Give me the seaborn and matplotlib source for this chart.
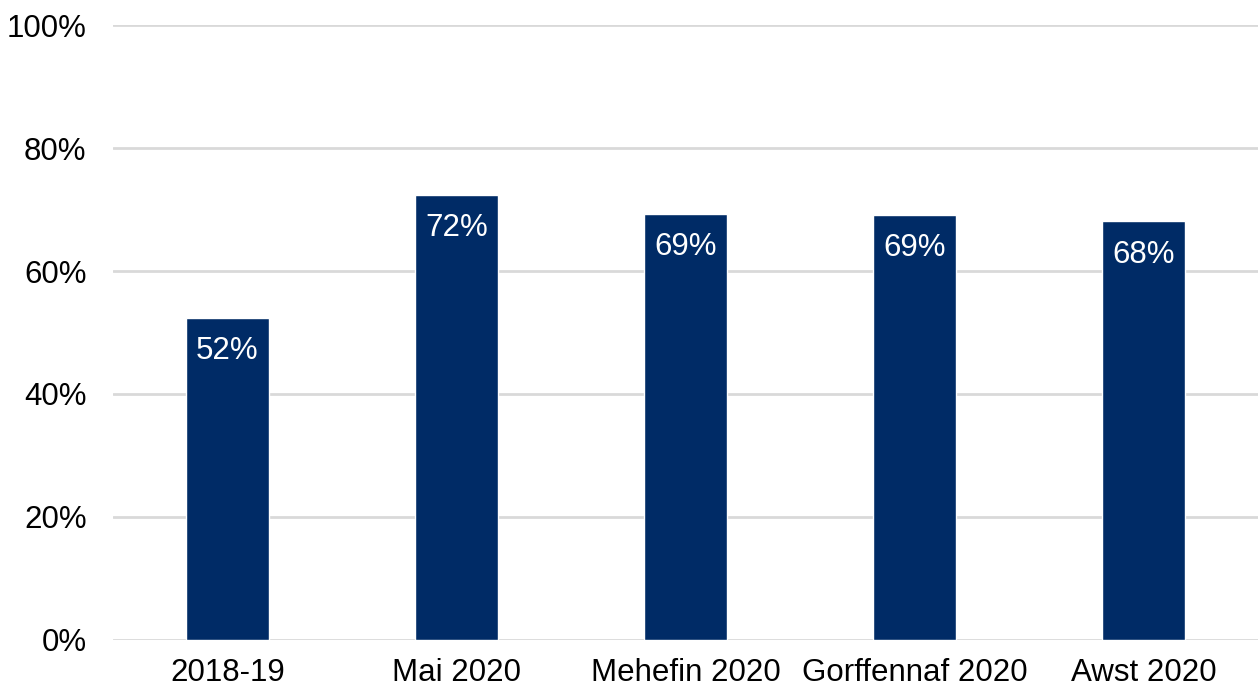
import numpy as np
import pandas as pd
import seaborn as sns
import matplotlib.pyplot as plt
from matplotlib.ticker import PercentFormatter

categories = ["2018-19", "Mai 2020", "Mehefin 2020", "Gorffennaf 2020", "Awst 2020"]
values = [52.4, 72.4, 69.3, 69.1, 68.1]
labels = ["52%", "72%", "69%", "69%", "68%"]

df = pd.DataFrame({"cat": categories, "val": values})

sns.set_style("white")
plt.rcParams["font.family"] = ["Liberation Sans", "DejaVu Sans"]

fig = plt.figure(figsize=(12.58, 6.93), dpi=100)
ax = fig.add_axes([0.0898, 0.0765, 0.9102, 0.8874])

sns.barplot(data=df, x="cat", y="val", color="#002B66", width=0.36,
            saturation=1, ax=ax, zorder=3)

ax.set_ylim(0, 100)
ax.set_yticks(np.arange(0, 101, 20))
ax.yaxis.set_major_formatter(PercentFormatter(decimals=0))
ax.grid(axis="y", color="#d9d9d9", linewidth=2, zorder=0)
ax.set_axisbelow(True)
for s in ax.spines.values():
    s.set_visible(False)
ax.tick_params(axis="both", length=0, labelsize=22.5, colors="black")
ax.tick_params(axis="y", pad=19)
ax.tick_params(axis="x", pad=13)
ax.set_xlabel("")
ax.set_ylabel("")
ax.set_xlim(-0.5, len(categories) - 0.5)

for i, (v, lab) in enumerate(zip(values, labels)):
    ax.annotate(lab, xy=(i, v), xytext=(0, -24), textcoords="offset points",
                ha="center", va="center", color="white", fontsize=22.5, zorder=4)

fig.savefig("out.png", dpi=100)
